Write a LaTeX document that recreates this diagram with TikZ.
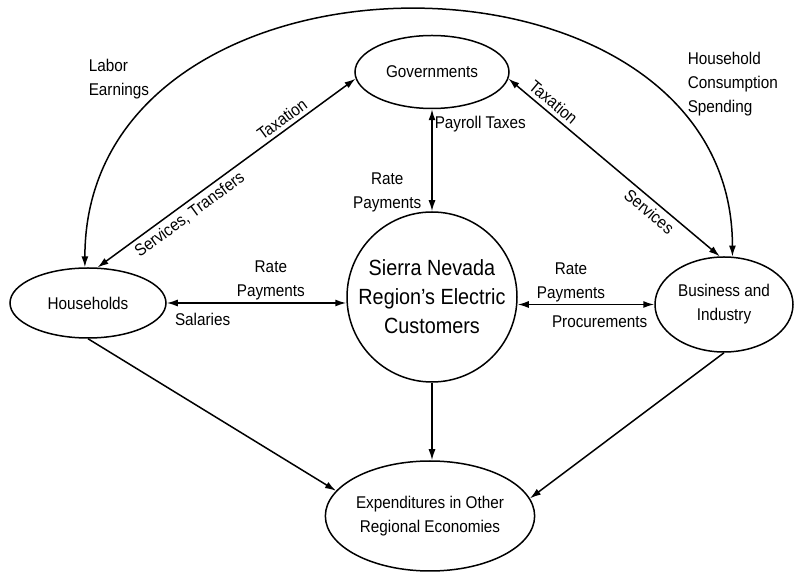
\documentclass[tikz,border=0pt]{standalone}
\usepackage{fontspec}
\setmainfont{Liberation Sans}[FakeStretch=0.9]
\usetikzlibrary{arrows.meta, shapes.geometric}

\begin{document}
\begin{tikzpicture}[x=1pt, y=1pt, line width=1.5pt, >={Latex[length=11pt,width=7pt]},
  sector/.style={draw, ellipse, inner sep=0pt, align=center, font=\fontsize{17}{24}\selectfont},
  flow/.style={inner sep=2pt, align=center, font=\fontsize{17}{24}\selectfont},
  tilted/.style={flow, sloped, inner sep=4pt}]
\useasboundingbox (0,0) rectangle (796,573);
\node[sector, minimum width=154pt, minimum height=73pt](gov) at (432,501){Governments};
\node[sector, minimum width=156pt, minimum height=70pt](hh) at (88,270){Households};
\node[draw, circle, minimum size=170pt, inner sep=0pt, align=center, font=\fontsize{22}{29}\selectfont](cust) at (432,276){Sierra Nevada\\Region's Electric\\Customers};
\node[sector, minimum width=138pt, minimum height=95pt](bus) at (724,268.5){Business and\\Industry};
\node[sector, minimum width=192pt, minimum height=110pt](exp) at (430,57){Expenditures in Other\\Regional Economies};
\node[flow, anchor=west, align=left](labor) at (86,494){Labor\\Earnings};
\node[flow, anchor=west, align=left](spend) at (685,489){Household\\Consumption\\Spending};
\draw[<->] (hh.95) .. controls +(0,340) and +(0,330) .. (bus.80);
\draw[<->] (hh.75) -- (gov.185)
  node[tilted, above, pos=0.74]{Taxation}
  node[tilted, below, pos=0.33]{Services, Transfers};
\draw[<->] (gov.355) -- (bus.95)
  node[tilted, above, pos=0.18]{Taxation}
  node[tilted, below, pos=0.70]{Services};
\draw[<->] (gov) -- (cust)
  node[flow, right, pos=0.15]{Payroll Taxes}
  node[flow, left, pos=0.82, xshift=-8pt]{Rate\\Payments};
\draw[<->] (hh.east) -- (cust.west |- hh.east)
  node[flow, above, pos=0.58]{Rate\\Payments}
  node[flow, below, pos=0.2, yshift=-7pt]{Salaries};
\draw[<->] (cust.east |- bus.west) -- (bus.west)
  node[flow, above, pos=0.39]{Rate\\Payments}
  node[flow, below, pos=0.6, yshift=-9pt]{Procurements};
\draw[->] (hh.south) -- (exp.165);
\draw[->] (cust.south) -- (cust.south |- exp.north);
\draw[->] (bus.south) -- (exp.10);
\end{tikzpicture}
\end{document}
